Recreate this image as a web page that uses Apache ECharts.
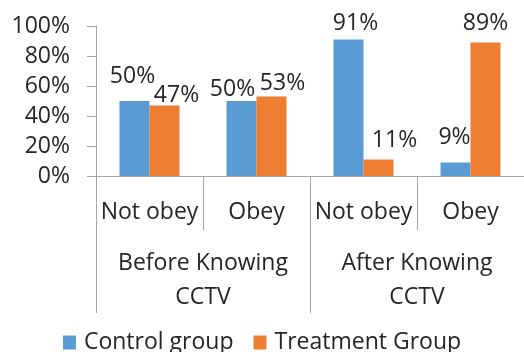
<!DOCTYPE html>
<html>
<head>
<meta charset="utf-8">
<script src="https://cdn.jsdelivr.net/npm/echarts@6/dist/echarts.min.js"></script>
<style>html,body{margin:0;padding:0;background:#fff;}#c{width:524px;height:352px;}</style>
</head>
<body>
<div id="c"></div>
<script>
const categories = ['Not obey', 'Obey', 'Not obey', 'Obey'];
const groups = ['Before Knowing\nCCTV', 'After Knowing\nCCTV'];
const controlGroup = [50, 50, 91, 9];
const treatmentGroup = [47, 53, 11, 89];
const yTicks = [0, 20, 40, 60, 80, 100];

// label nudges (style only)
const controlOffsets = [[-2, -8], [-9, 5], [7, 0], [-1, -9]];
const treatmentOffsets = [[12, 6], [11, 3], [16, -3], [0, -3]];

const FONT = 'Open Sans';
const FS = 23;
const TXT = '#262626';
const AX = '#A6A6A6';

function mk(vals, offs) {
  return vals.map((v, i) => ({ value: v, label: { offset: offs[i] } }));
}

const chart = echarts.init(document.getElementById('c'));
chart.setOption({
  animation: false,
  textStyle: { fontFamily: FONT },
  grid: { left: 96, top: 26, bottom: 176, right: -4, containLabel: false },
  legend: {
    data: ['Control group', 'Treatment Group'],
    top: 331,
    padding: 0,
    left: 'center',
    icon: 'rect',
    itemWidth: 13,
    itemHeight: 14,
    itemGap: 20,
    textStyle: { fontFamily: FONT, fontSize: FS, color: TXT, padding: [0, 0, 0, 3] }
  },
  yAxis: {
    type: 'value',
    min: yTicks[0],
    max: yTicks[yTicks.length - 1],
    interval: 20,
    axisLine: { show: true, lineStyle: { color: AX, width: 1 } },
    axisTick: { show: true, length: 9, lineStyle: { color: AX } },
    splitLine: { show: false },
    axisLabel: { formatter: '{value}%', fontFamily: FONT, fontSize: FS, color: TXT, margin: 26 }
  },
  xAxis: [
    {
      type: 'category',
      data: categories,
      position: 'bottom',
      axisLine: { show: true, lineStyle: { color: AX, width: 1 } },
      axisTick: { show: true, length: 54, interval: 0, lineStyle: { color: AX } },
      axisLabel: { interval: 0, fontFamily: FONT, fontSize: FS, color: TXT, margin: 24, lineHeight: 24 }
    },
    {
      type: 'category',
      data: groups,
      position: 'bottom',
      axisLine: { show: false },
      axisTick: { show: true, length: 137, interval: 0, lineStyle: { color: AX } },
      axisLabel: { interval: 0, fontFamily: FONT, fontSize: FS, color: TXT, margin: 70, lineHeight: 34 }
    }
  ],
  series: [
    {
      name: 'Control group',
      type: 'bar',
      xAxisIndex: 0,
      barWidth: 30,
      barGap: '0%',
      itemStyle: { color: '#5B9BD5' },
      label: { show: true, position: 'top', formatter: '{c}%', fontFamily: FONT, fontSize: FS, color: TXT, lineHeight: 23 },
      data: mk(controlGroup, controlOffsets)
    },
    {
      name: 'Treatment Group',
      type: 'bar',
      xAxisIndex: 0,
      barWidth: 30,
      barGap: '0%',
      itemStyle: { color: '#ED7D31' },
      label: { show: true, position: 'top', formatter: '{c}%', fontFamily: FONT, fontSize: FS, color: TXT, lineHeight: 23 },
      data: mk(treatmentGroup, treatmentOffsets)
    }
  ]
});
</script>
</body>
</html>
